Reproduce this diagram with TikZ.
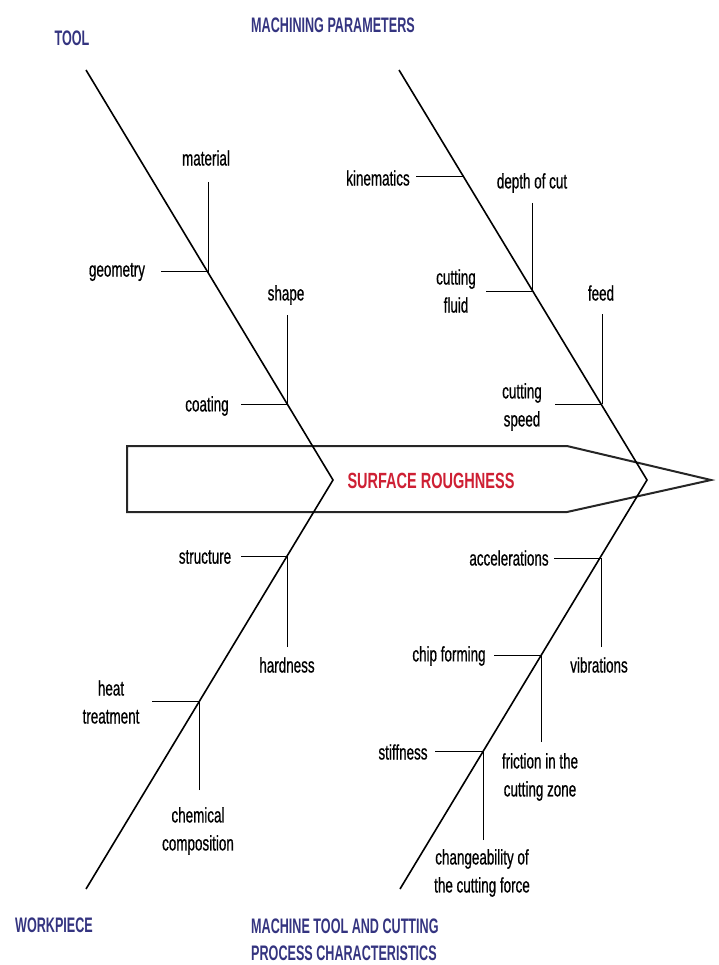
\documentclass[tikz,border=0pt]{standalone}
\usepackage{fontspec}
\newfontfamily\narrowfont{Liberation Sans}[FakeStretch=0.64,FakeBold=0.6]
\newfontfamily\headfont{Liberation Sans}[FakeStretch=0.6]
\newfontfamily\effectfont{Liberation Sans}[FakeStretch=0.66]
\definecolor{headblue}{RGB}{52,52,128}
\definecolor{effectred}{RGB}{206,32,52}
\begin{document}
\begin{tikzpicture}[x=1pt,y=-1pt,
    bone/.style={line width=1.6pt},
    twig/.style={line width=1pt},
    cause/.style={font=\narrowfont\fontsize{21}{28}\selectfont,align=center,inner sep=0pt},
    group/.style={font=\headfont\bfseries\fontsize{21}{26.5}\selectfont,text=headblue,inner sep=0pt}]
    \useasboundingbox (0,0) rectangle (718,965);
    % Head: the effect
    \draw[line width=2pt,black!85] (127,446) -- (567,446) -- (711,480) -- (567,512) -- (127,512) -- cycle;
    \node[font=\effectfont\bfseries\fontsize{22}{24}\selectfont,text=effectred,inner sep=0pt] (effect) at (431,481) {SURFACE ROUGHNESS};
    % Bone ends
    \coordinate (toolend) at (86,70);
    \coordinate (machend) at (399,70);
    \coordinate (workend) at (86,889);
    \coordinate (mtcend) at (400,889);
    \coordinate (spineL) at (333,480);
    \coordinate (spineR) at (647,480);
    \draw[bone] (toolend) -- (spineL) -- (workend);
    \draw[bone] (machend) -- (spineR) -- (mtcend);
    % Group titles
    \node[group] (tool) at (72,38) {TOOL};
    \node[group] (mach) at (333,25) {MACHINING PARAMETERS};
    \node[group] (work) at (54,925) {WORKPIECE};
    \node[group,anchor=west,align=left] (mtc) at (251,940) {MACHINE TOOL AND CUTTING\\PROCESS CHARACTERISTICS};
    % Tool
    \coordinate (t1) at (208,272);
    \coordinate (t2) at (287,404);
    \node[cause] (material) at (206,158) {material};
    \node[cause] (geometry) at (117,272) {geometry};
    \node[cause] (shape) at (286,295) {shape};
    \node[cause] (coating) at (207,406) {coating};
    \coordinate (material-e) at (208,182);
    \coordinate (geometry-e) at (161,272);
    \coordinate (shape-e) at (287,315);
    \coordinate (coating-e) at (241,404);
    \draw[twig] (material-e) -- (t1);
    \draw[twig] (geometry-e) -- (t1);
    \draw[twig] (shape-e) -- (t2);
    \draw[twig] (coating-e) -- (t2);
    % Machining parameters
    \coordinate (m1) at (463,177);
    \coordinate (m2) at (532,291);
    \coordinate (m3) at (602,404);
    \node[cause] (kinematics) at (378,178) {kinematics};
    \node[cause] (depth) at (532,183) {depth of cut};
    \node[cause] (fluid) at (456,291) {cutting\\fluid};
    \node[cause] (feed) at (601,293) {feed};
    \node[cause] (speed) at (522,407) {cutting\\speed};
    \coordinate (kinematics-e) at (416,177);
    \coordinate (depth-e) at (532,203);
    \coordinate (fluid-e) at (486,291);
    \coordinate (feed-e) at (602,314);
    \coordinate (speed-e) at (555,404);
    \draw[twig] (kinematics-e) -- (m1);
    \draw[twig] (depth-e) -- (m2);
    \draw[twig] (fluid-e) -- (m2);
    \draw[twig] (feed-e) -- (m3);
    \draw[twig] (speed-e) -- (m3);
    % Workpiece
    \coordinate (w1) at (287,556);
    \coordinate (w2) at (199,701);
    \node[cause] (structure) at (205,557) {structure};
    \node[cause] (hardness) at (287,665) {hardness};
    \node[cause] (heat) at (111,702) {heat\\treatment};
    \node[cause] (chemical) at (198,831) {chemical\\composition};
    \coordinate (structure-e) at (241,556);
    \coordinate (hardness-e) at (287,647);
    \coordinate (heat-e) at (152,701);
    \coordinate (chemical-e) at (199,790);
    \draw[twig] (structure-e) -- (w1);
    \draw[twig] (hardness-e) -- (w1);
    \draw[twig] (heat-e) -- (w2);
    \draw[twig] (chemical-e) -- (w2);
    % Machine tool and cutting process
    \coordinate (p1) at (601,558);
    \coordinate (p2) at (541,655);
    \coordinate (p3) at (483,751);
    \node[cause] (accel) at (509,558) {accelerations};
    \node[cause] (vibr) at (599,665) {vibrations};
    \node[cause] (chip) at (449,656) {chip forming};
    \node[cause] (friction) at (540,777) {friction in the\\cutting zone};
    \node[cause] (stiff) at (403,752) {stiffness};
    \node[cause] (force) at (482,873) {changeability of\\the cutting force};
    \coordinate (accel-e) at (554,558);
    \coordinate (vibr-e) at (601,647);
    \coordinate (chip-e) at (494,655);
    \coordinate (friction-e) at (541,742);
    \coordinate (stiff-e) at (435,751);
    \coordinate (force-e) at (483,840);
    \draw[twig] (accel-e) -- (p1);
    \draw[twig] (vibr-e) -- (p1);
    \draw[twig] (chip-e) -- (p2);
    \draw[twig] (friction-e) -- (p2);
    \draw[twig] (stiff-e) -- (p3);
    \draw[twig] (force-e) -- (p3);
\end{tikzpicture}
\end{document}
